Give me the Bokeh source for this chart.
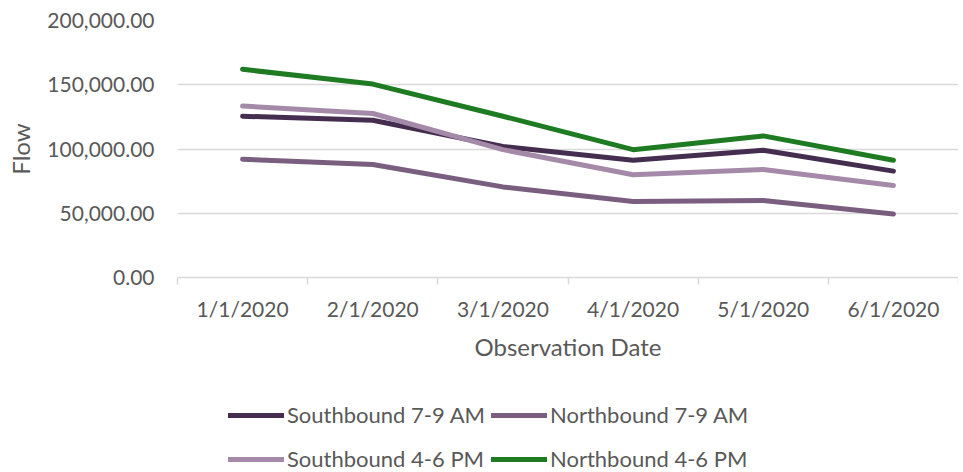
from bokeh.plotting import figure
from bokeh.layouts import column
from bokeh.models import Range1d, FixedTicker, NumeralTickFormatter, Legend, LegendItem
from bokeh.embed import file_html
from bokeh.resources import INLINE

dates = ["1/1/2020", "2/1/2020", "3/1/2020", "4/1/2020", "5/1/2020", "6/1/2020"]
southbound_am = [125500, 122400, 102000, 91200, 99000, 82800]
northbound_am = [92000, 88000, 70500, 59100, 59900, 49500]
southbound_pm = [133400, 127600, 99500, 80000, 84100, 71600]
northbound_pm = [162000, 150500, 125500, 99500, 110200, 91200]
y_ticks = [0, 50000, 100000, 150000, 200000]

series = [
    ("Southbound 7-9 AM", southbound_am, "#452D50"),
    ("Northbound 7-9 AM", northbound_am, "#7A5E80"),
    ("Southbound 4-6 PM", southbound_pm, "#A48AA8"),
    ("Northbound 4-6 PM", northbound_pm, "#1E7B22"),
]

FONT = "Lato"
TXT = "#595959"
GRID = "#D9D9D9"

xs = list(range(1, len(dates) + 1))

p = figure(width=958, height=372, output_backend="svg", toolbar_location=None,
           x_range=Range1d(0.5, len(dates) + 0.5), y_range=Range1d(y_ticks[0], y_ticks[-1]),
           min_border_left=177, min_border_right=0, min_border_top=20, min_border_bottom=95)
p.outline_line_color = None
p.background_fill_color = "white"
p.border_fill_color = "white"

for name, vals, color in series:
    p.line(xs, vals, line_color=color, line_width=5, line_cap="round", line_join="round")

# x axis
p.xaxis.ticker = FixedTicker(ticks=xs, minor_ticks=[x - 0.5 for x in xs] + [xs[-1] + 0.5])
p.xaxis.major_label_overrides = {x: d for x, d in zip(xs, dates)}
p.xaxis.major_tick_line_color = None
p.xaxis.major_tick_out = 0
p.xaxis.major_tick_in = 0
p.xaxis.minor_tick_line_color = GRID
p.xaxis.minor_tick_line_width = 1.5
p.xaxis.minor_tick_out = 7
p.xaxis.minor_tick_in = 0
p.xaxis.axis_line_color = GRID
p.xaxis.axis_line_width = 1.5
p.xaxis.major_label_standoff = 11
p.xaxis.axis_label = "Observation Date"
p.xaxis.axis_label_standoff = 8
p.xgrid.grid_line_color = None

# y axis
p.yaxis.ticker = FixedTicker(ticks=y_ticks)
p.yaxis.formatter = NumeralTickFormatter(format="0,0.00")
p.yaxis.axis_line_color = None
p.yaxis.major_tick_line_color = None
p.yaxis.minor_tick_line_color = None
p.yaxis.major_label_standoff = 17
p.yaxis.axis_label = "Flow"
p.yaxis.axis_label_standoff = 9
p.ygrid.grid_line_color = GRID
p.ygrid.grid_line_width = 1.5
p.ygrid.ticker = FixedTicker(ticks=y_ticks)

for ax in (p.xaxis, p.yaxis):
    ax.major_label_text_font = FONT
    ax.major_label_text_font_size = "21px"
    ax.major_label_text_color = TXT
    ax.axis_label_text_font = FONT
    ax.axis_label_text_font_size = "24px"
    ax.axis_label_text_font_style = "normal"
    ax.axis_label_text_color = TXT

# legend panel (series drawn off-screen, only their legend glyphs show)
p2 = figure(width=958, height=100, output_backend="svg", toolbar_location=None,
            x_range=Range1d(100, 101), y_range=Range1d(-2, -1), min_border=0)
p2.axis.visible = False
p2.grid.grid_line_color = None
p2.outline_line_color = None
p2.background_fill_color = "white"
p2.border_fill_color = "white"

items = []
for name, vals, color in series:
    r = p2.line(xs, vals, line_color=color, line_width=5, line_cap="round")
    items.append(LegendItem(label=name, renderers=[r]))

for row, y_off in ((0, 44), (1, 0)):
    legend = Legend(items=items[2 * row:2 * row + 2], orientation="horizontal", location=(51, y_off),
                    label_text_font=FONT, label_text_font_size="22px", label_text_color=TXT,
                    glyph_width=56, glyph_height=22, label_height=22, label_width=200,
                    label_standoff=3, spacing=4, padding=0, margin=0, border_line_color=None,
                    background_fill_alpha=0)
    p2.add_layout(legend, "center")

open("out.html", "w").write(file_html(column(p, p2, spacing=0), INLINE))
